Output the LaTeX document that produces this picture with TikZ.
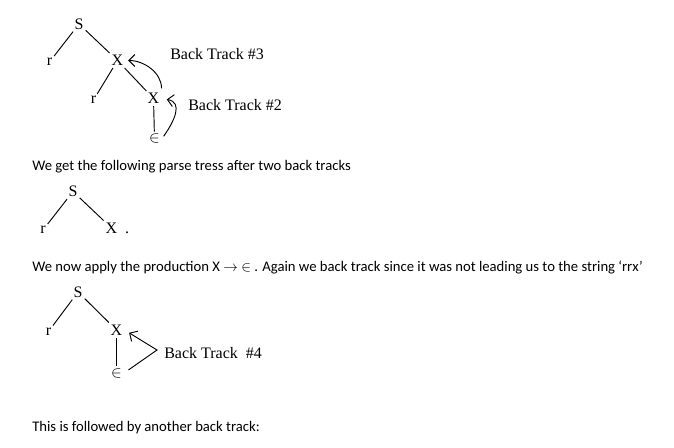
\documentclass[tikz,border=0pt]{standalone}
\usepackage{fontspec}
\setmainfont{Liberation Serif}
\newfontfamily\bodyfont{Carlito}
\usetikzlibrary{arrows.meta}
\tikzset{
  sym/.style={font=\fontsize{12}{14}\selectfont,inner sep=1.5pt},
  para/.style={font=\bodyfont\fontsize{11}{13}\selectfont,anchor=base west,inner sep=0pt},
  btlabel/.style={font=\fontsize{12}{14}\selectfont,anchor=base west,inner sep=0pt},
  edge/.style={line width=0.7pt},
  back/.style={line width=0.7pt,-{Straight Barb[length=4.5pt,width=9pt]},shorten >=2pt,shorten <=2pt},
}
\begin{document}
\begin{tikzpicture}[x=0.75pt,y=-0.75pt]
\useasboundingbox (0,0) rectangle (674,447);
% first tree, two back tracks
\node[sym] (s1) at (79,24) {S};
\node[sym] (r1) at (49.5,62) {r};
\node[sym] (x1) at (117.5,60.5) {X};
\node[sym] (r2) at (93.5,100) {r};
\node[sym] (x2) at (153.5,98.5) {X};
\node[sym] (e1) at (154.5,138.5) {$\in$};
\draw[edge] (s1)--(r1);
\draw[edge] (s1)--(x1);
\draw[edge] (x1)--(r2);
\draw[edge] (x1)--(x2);
\draw[edge] (x2)--(e1);
\draw[back] (x2.north east) to[out=90,in=0] (x1.east);
\draw[back,shorten >=4pt] (e1.east) to[out=55,in=-10,looseness=1.4] (x2.east);
\node[btlabel] (bt3) at (170,59) {Back Track \#3};
\node[btlabel] (bt2) at (188,110) {Back Track \#2};
\node[para] (t1) at (32,170) {We get the following parse tress after two back tracks};
% second tree
\node[sym] (s2) at (73,191.5) {S};
\node[sym] (r3) at (43,230) {r};
\node[sym] (x3) at (111.5,228) {X};
\node[sym,anchor=base] (dot) at (127,233) {.};
\draw[edge] (s2)--(r3);
\draw[edge] (s2)--(x3);
\node[para] (t2) at (32,271.5) {We now apply the production X $\rightarrow$ $\in$ . Again we back track since it was not leading us to the string ‘rrx’};
% third tree
\node[sym] (s3) at (78,292) {S};
\node[sym] (r4) at (48.5,331.5) {r};
\node[sym] (x4) at (116.5,330) {X};
\node[sym] (e2) at (116.5,373) {$\in$};
\draw[edge] (s3)--(r4);
\draw[edge] (s3)--(x4);
\draw[edge] (x4)--(e2);
\coordinate (bend) at (157,350);
\draw[back,shorten <=4pt,shorten >=4pt] (e2.east)--(bend)--(x4.east);
\node[btlabel] (bt4) at (164,358) {Back Track~~\#4};
\node[para] (t3) at (32,431.5) {This is followed by another back track:};
\end{tikzpicture}
\end{document}
